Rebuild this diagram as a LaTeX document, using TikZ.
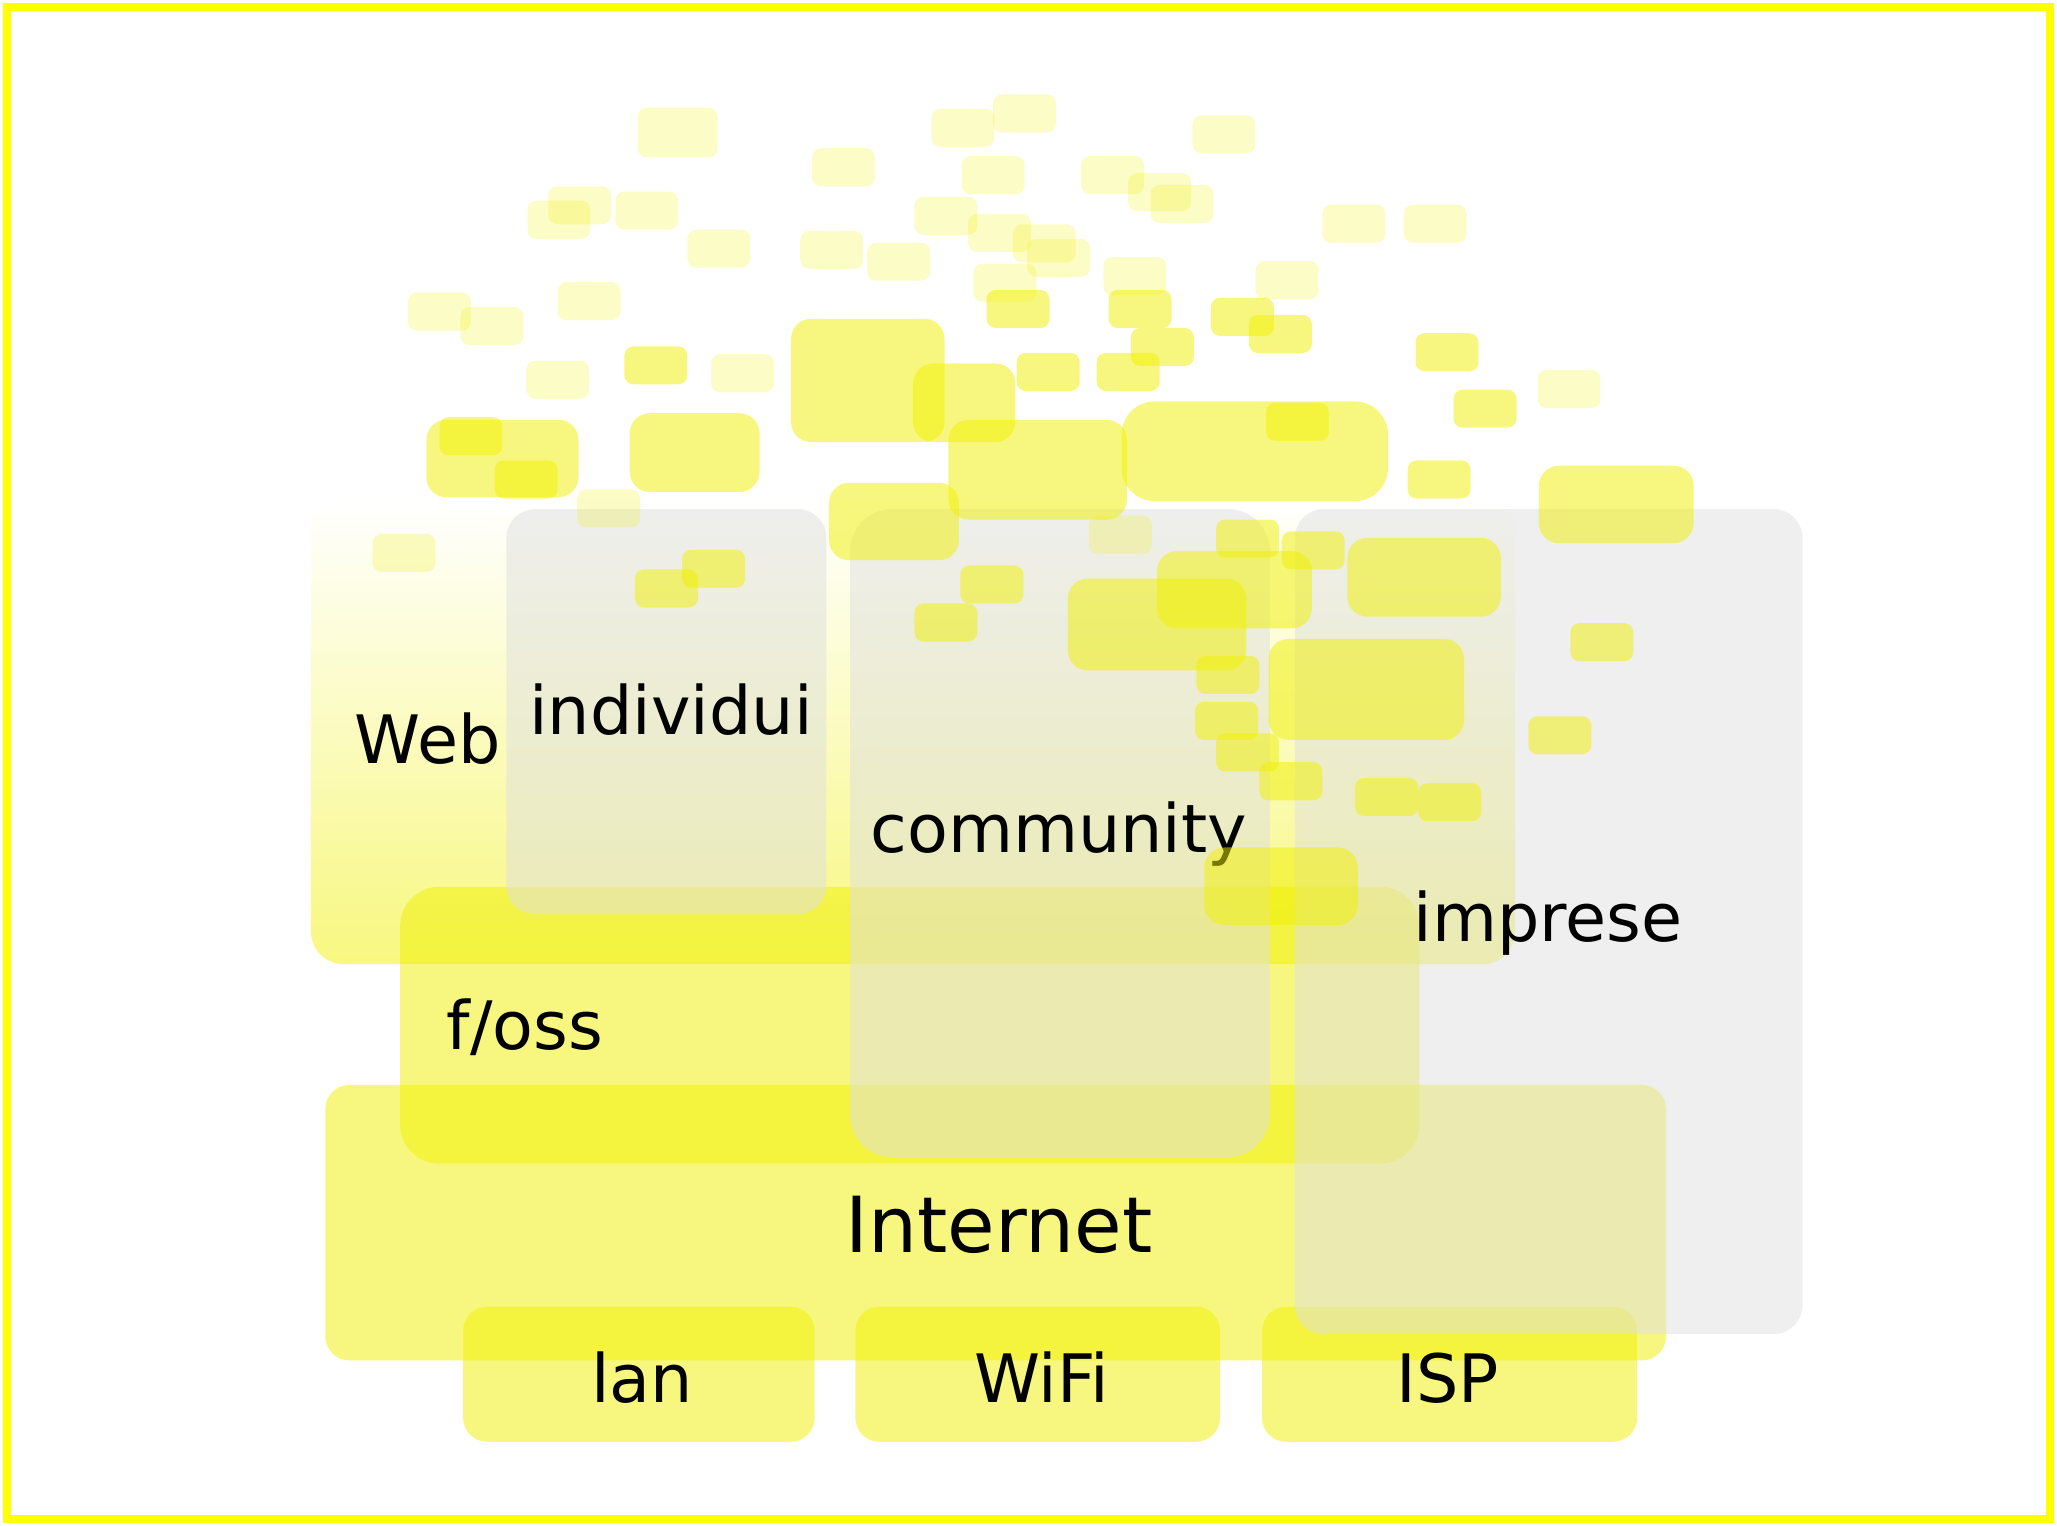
\documentclass[tikz,border=0pt]{standalone}
\usepackage{fontspec}
\setmainfont{DejaVu Sans}
\usepackage{tikz}
\definecolor{lemon}{RGB}{240,240,0}
\definecolor{mist}{RGB}{224,224,224}
\definecolor{rim}{RGB}{255,255,0}
\tikzstyle{slab}=[fill=lemon, fill opacity=0.5, rounded corners=2.4mm]
\tikzstyle{haze}=[fill=mist, fill opacity=0.52, rounded corners=2.9mm]
\tikzstyle{chip}=[fill=lemon, fill opacity=0.5, rounded corners=0.9mm]
\tikzstyle{pale}=[fill=lemon, fill opacity=0.22, rounded corners=0.9mm]
\tikzstyle{lbl}=[anchor=base west, inner sep=0pt, font=\fontsize{19pt}{22pt}\selectfont]

\begin{document}
\begin{tikzpicture}[x=0.1312mm, y=-0.1312mm]
  \useasboundingbox (0,0) rectangle (1568,1163);

  % web, fading out at the top
  \shade[top color=white, bottom color=lemon!50, rounded corners=3.3mm] (237,380) rectangle (1155,735);

  % yellow layers
  \fill[slab, rounded corners=3.9mm] (305,676) rectangle (1082,887);
  \fill[slab] (248,827) rectangle (1270,1037);
  \foreach \x/\w in {353/268, 652/278, 962/286}
    \fill[slab] (\x,996) rectangle ++(\w,103);

  % grey layers
  \fill[haze] (386,388) rectangle (630,697);
  \fill[haze, rounded corners=4.2mm] (648,388) rectangle (968,882);
  \fill[haze] (987,388) rectangle (1374,1017);

  %labels
  \node[lbl] (web) at (270,582) {Web};
  \node[lbl] (individui) at (403,560) {individui};
  \node[lbl] (community) at (663,650) {community};
  \node[lbl] (imprese) at (1077,718) {imprese};
  \node[lbl] (foss) at (340,800) {f/oss};
  \node[lbl, font=\fontsize{22pt}{26pt}\selectfont] (internet) at (644,955) {Internet};
  \node[lbl] (lan) at (450,1069) {lan};
  \node[lbl] (wifi) at (742,1069) {WiFi};
  \node[lbl] (isp) at (1064,1069) {ISP};

  % scattered chips
  \fill[pale] (486,82) rectangle ++(61,38);
  \foreach \x/\y in {710/83, 757/72, 909/88, 619/113, 733/119, 824/119, 860/132, 877/141,
      418/142, 402/153, 469/146, 697/150, 738/163, 772/171, 783/182, 524/175, 610/176,
      661/185, 1008/156, 1070/156, 742/201, 841/196, 957/199, 311/223, 351/234, 425/215,
      401/275, 542/270, 1172/282, 440/373, 284/407, 830/393}
    \fill[pale] (\x,\y) rectangle ++(48,29);
  \foreach \x/\y in {752/221, 845/221, 862/250, 923/227, 952/240, 1079/254, 1108/297,
      1073/351, 1197/475, 1165/546, 1033/593, 1081/597, 960/581, 927/559, 911/535, 912/500,
      927/396, 977/405, 732/431, 697/460, 965/307, 775/269, 836/269, 476/264, 335/318,
      377/351, 520/419, 484/434}
    \fill[chip] (\x,\y) rectangle ++(48,29);
  \foreach \xa/\ya/\xb/\yb in {1173/355/1291/414, 1027/410/1144/470, 918/646/1035/705,
      967/487/1116/564, 882/420/1000/479, 814/441/950/511, 632/368/731/427, 723/320/859/396,
      603/243/720/337, 696/277/774/337, 480/315/579/375, 325/320/441/379}
    \fill[chip, rounded corners=2mm] (\xa,\ya) rectangle (\xb,\yb);
  \fill[chip, rounded corners=3.3mm] (855,306) rectangle (1058,382);

  % frame
  \draw[rim, line width=0.8mm] (5.5,5.5) rectangle (1562.5,1157.5);
\end{tikzpicture}
\end{document}
